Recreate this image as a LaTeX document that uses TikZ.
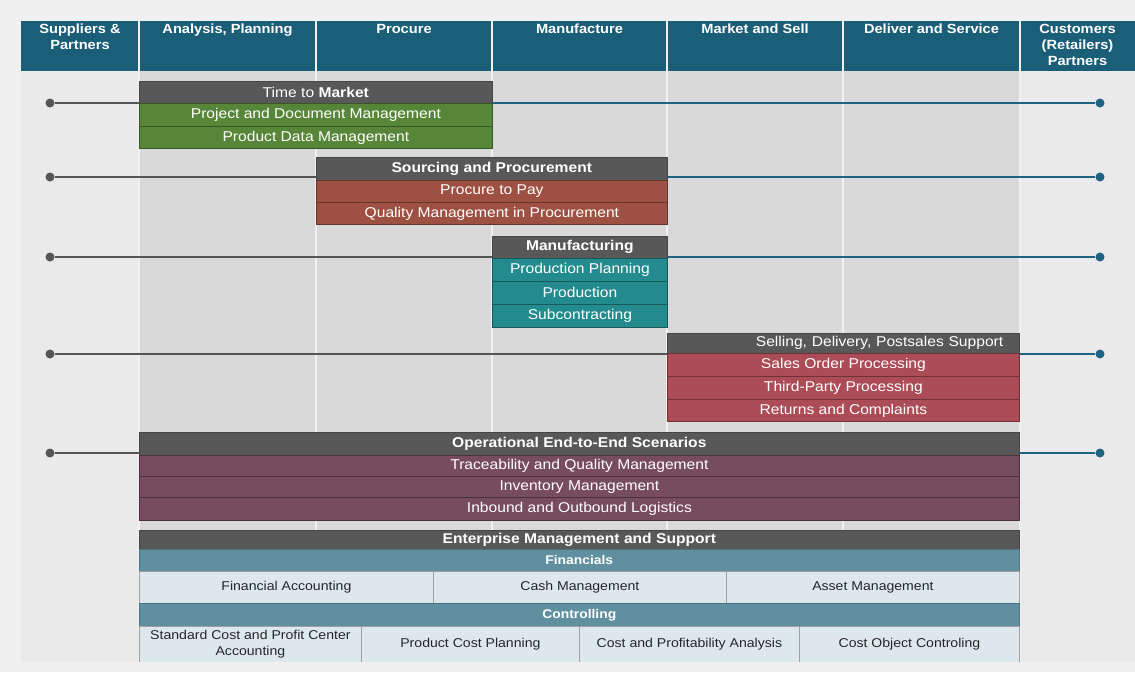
\documentclass[tikz,border=0pt]{standalone}
\usepackage{fontspec}
\setmainfont{Liberation Sans}[FakeStretch=1.1]
\newcommand\colheadfont{\bfseries\fontsize{13.3}{16}\selectfont}
\newcommand\rowtextfont{\fontsize{14.2}{16}\selectfont}
\newcommand\bartitlefont{\bfseries\fontsize{14.2}{16}\selectfont}
\newcommand\bandfont{\bfseries\fontsize{12.6}{15}\selectfont}
\newcommand\cellfont{\fontsize{12.8}{16}\selectfont}

\definecolor{margincol}{RGB}{240,240,240}
\definecolor{bgout}{RGB}{234,234,234}
\definecolor{bgin}{RGB}{217,217,217}
\definecolor{hdrblue}{RGB}{27,94,120}
\definecolor{titlegray}{RGB}{88,88,88}
\definecolor{tmgreen}{RGB}{88,134,56}
\definecolor{spbrown}{RGB}{158,80,66}
\definecolor{mfteal}{RGB}{35,139,141}
\definecolor{slred}{RGB}{172,76,87}
\definecolor{opplum}{RGB}{120,76,95}
\definecolor{finband}{RGB}{96,143,160}
\definecolor{fincell}{RGB}{221,232,238}
\definecolor{linegray}{RGB}{85,85,85}
\definecolor{lineteal}{RGB}{30,100,130}

\tikzset{
  colhead/.style={anchor=north, text=white, font=\colheadfont, align=center, inner sep=0},
  bar/.style={anchor=north west, inner sep=0, text=white, font=\rowtextfont},
  titlebar/.style={bar, fill=titlegray, draw=titlegray!80!black, line width=0.6, font=\bartitlefont},
  rowbar/.style={bar, fill=#1, draw=#1!65!black, line width=0.8},
  band/.style={bar, fill=finband, draw=finband!80!black, line width=0.6, font=\bandfont},
  cell/.style={anchor=north west, inner sep=0, fill=fincell, draw=gray!75, line width=0.8,
    text=black!85, font=\cellfont, align=center},
  ldot/.style={circle, fill=linegray, inner sep=0, minimum size=9},
  rdot/.style={circle, fill=lineteal, inner sep=0, minimum size=9},
  lineL/.style={draw=linegray, line width=2.6},
  lineR/.style={draw=lineteal, line width=2.6},
}

\begin{document}
\begin{tikzpicture}[x=1pt,y=-1pt]
\useasboundingbox (0,0) rectangle (1135,672);

% backdrop: margins, swim-lane columns and header band
\fill[margincol] (0,0) rectangle (1135,672);
\fill[bgout] (21,71) rectangle (1135,662);
\fill[bgin] (139,71) rectangle (1020,662);
\fill[hdrblue] (21,21) rectangle (1135,71);
\foreach \x in {139,316,492,667,843,1020}
  \draw[white!88!gray, line width=1.2] (\x,21) -- (\x,662);

% column headings
\node[colhead] (hSup) at (80,24) {Suppliers \&\\Partners};
\node[colhead] (hAna) at (227.5,24) {Analysis, Planning};
\node[colhead] (hPro) at (404,24) {Procure};
\node[colhead] (hMan) at (579.5,24) {Manufacture};
\node[colhead] (hMkt) at (755,24) {Market and Sell};
\node[colhead] (hDel) at (931.5,24) {Deliver and Service};
\node[colhead] (hCus) at (1077.5,24) {Customers\\(Retailers)\\Partners};

% end points of the process lines
\node[ldot] (lTM) at (50,103) {};
\node[rdot] (rTM) at (1100,103) {};
\node[ldot] (lSP) at (50,177) {};
\node[rdot] (rSP) at (1100,177) {};
\node[ldot] (lMF) at (50,257) {};
\node[rdot] (rMF) at (1100,257) {};
\node[ldot] (lSL) at (50,354) {};
\node[rdot] (rSL) at (1100,354) {};
\node[ldot] (lOP) at (50,453) {};
\node[rdot] (rOP) at (1100,453) {};

% Time to Market
\node[titlebar, minimum width=353, minimum height=22] (tmT) at (139,81)
  {\fontseries{m}\selectfont Time to \bfseries Market};
\node[rowbar=tmgreen, minimum width=353, minimum height=23] (tmA) at (139,103) {Project and Document Management};
\node[rowbar=tmgreen, minimum width=353, minimum height=22] (tmB) at (139,126) {Product Data Management};

% Sourcing and Procurement
\node[titlebar, minimum width=351, minimum height=23] (spT) at (316,157) {Sourcing and Procurement};
\node[rowbar=spbrown, minimum width=351, minimum height=22] (spA) at (316,180) {Procure to Pay};
\node[rowbar=spbrown, minimum width=351, minimum height=22] (spB) at (316,202) {Quality Management in Procurement};

% Manufacturing
\node[titlebar, minimum width=175, minimum height=22] (mfT) at (492,236) {Manufacturing};
\node[rowbar=mfteal, minimum width=175, minimum height=23] (mfA) at (492,258) {Production Planning};
\node[rowbar=mfteal, minimum width=175, minimum height=23] (mfB) at (492,281) {Production};
\node[rowbar=mfteal, minimum width=175, minimum height=23] (mfC) at (492,304) {Subcontracting};

% Selling, Delivery, Postsales Support
\node[titlebar, font=\rowtextfont, text width=320, inner xsep=16, align=right, minimum height=20] (slT) at (667,333)
  {Selling, Delivery, Postsales Support};
\node[rowbar=slred, minimum width=352, minimum height=23] (slA) at (667,353) {Sales Order Processing};
\node[rowbar=slred, minimum width=352, minimum height=23] (slB) at (667,376) {Third-Party Processing};
\node[rowbar=slred, minimum width=352, minimum height=22] (slC) at (667,399) {Returns and Complaints};

% Operational End-to-End Scenarios
\node[titlebar, minimum width=880, minimum height=23] (opT) at (139,432) {Operational End-to-End Scenarios};
\node[rowbar=opplum, minimum width=880, minimum height=21] (opA) at (139,455) {Traceability and Quality Management};
\node[rowbar=opplum, minimum width=880, minimum height=21] (opB) at (139,476) {Inventory Management};
\node[rowbar=opplum, minimum width=880, minimum height=23] (opC) at (139,497) {Inbound and Outbound Logistics};

% process lines
\draw[lineL] (lTM) -- (lTM -| tmT.west);
\draw[lineR] (rTM -| tmT.east) -- (rTM);
\draw[lineL] (lSP) -- (lSP -| spT.west);
\draw[lineR] (rSP -| spT.east) -- (rSP);
\draw[lineL] (lMF) -- (lMF -| mfT.west);
\draw[lineR] (rMF -| mfT.east) -- (rMF);
\draw[lineL] (lSL) -- (lSL -| slT.west);
\draw[lineR] (rSL -| slT.east) -- (rSL);
\draw[lineL] (lOP) -- (lOP -| opT.west);
\draw[lineR] (rOP -| opT.east) -- (rOP);

% Enterprise Management and Support
\node[titlebar, minimum width=880, minimum height=19] (emT) at (139,530) {Enterprise Management and Support};
\node[band, minimum width=880, minimum height=22] (finB) at (139,549) {Financials};
\node[cell, minimum width=294, minimum height=32] (finA) at (139,571) {Financial Accounting};
\node[cell, minimum width=293, minimum height=32] (finC) at (433,571) {Cash Management};
\node[cell, minimum width=293, minimum height=32] (finD) at (726,571) {Asset Management};
\node[band, minimum width=880, minimum height=23] (coB) at (139,603) {Controlling};
\node[cell, minimum width=222, minimum height=36] (coA) at (139,626) {Standard Cost and Profit Center\\Accounting};
\node[cell, minimum width=218, minimum height=36] (coC) at (361,626) {Product Cost Planning};
\node[cell, minimum width=220, minimum height=36] (coD) at (579,626) {Cost and Profitability Analysis};
\node[cell, minimum width=220, minimum height=36] (coE) at (799,626) {Cost Object Controling};

% strip below the lanes
\fill[margincol] (0,662) rectangle (1135,672);
\end{tikzpicture}
\end{document}
